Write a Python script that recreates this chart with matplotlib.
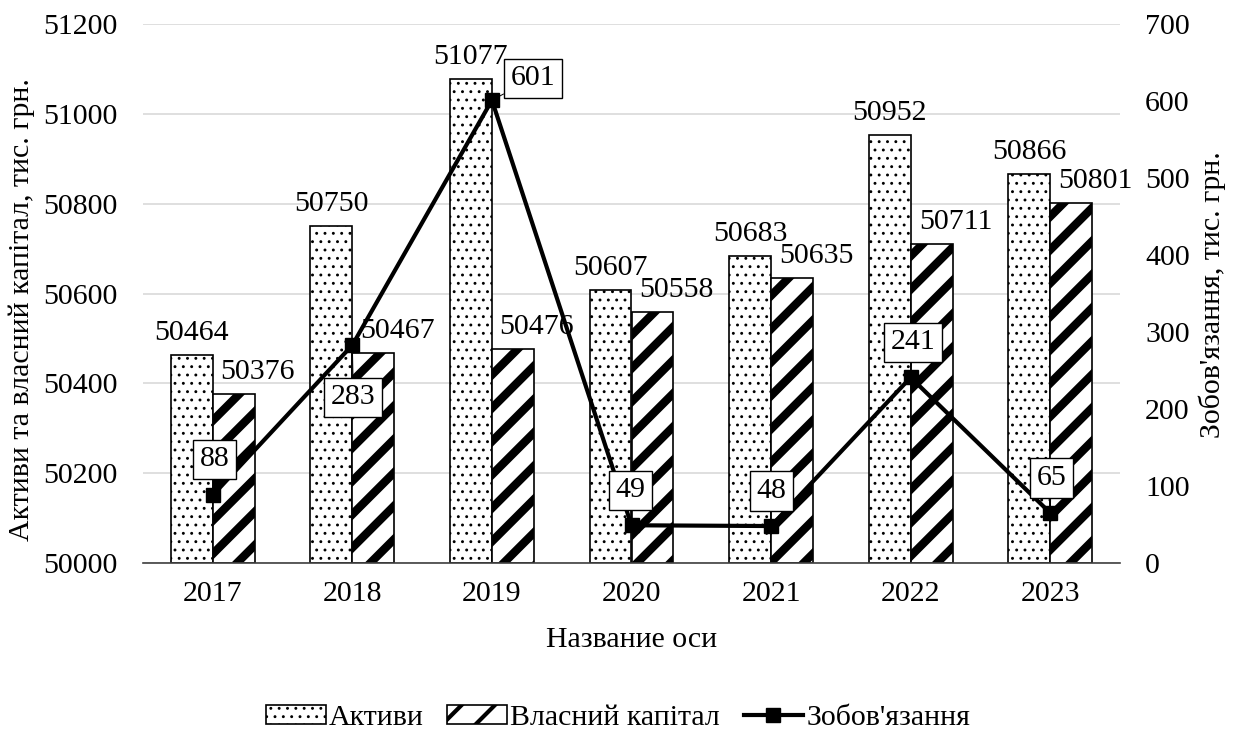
import matplotlib
matplotlib.use("Agg")
import matplotlib.pyplot as plt
from matplotlib.lines import Line2D
import numpy as np

plt.rcParams['font.family'] = ['Liberation Serif', 'DejaVu Serif']
plt.rcParams['hatch.color'] = 'black'

years = ['2017', '2018', '2019', '2020', '2021', '2022', '2023']
assets = [50464, 50750, 51077, 50607, 50683, 50952, 50866]
equity = [50376, 50467, 50476, 50558, 50635, 50711, 50801]
liabilities = [88, 283, 601, 49, 48, 241, 65]
# label offsets (pixels) for line data labels
liab_label_off = [(2, 36), (1, -52), (41, 22), (-1, 35), (0, 35), (2, 35), (1, 35)]

FS = 21.5
DOT_LW = 0.9
STRIPE_LW = 6.0
W, H = 1237, 735
fig = plt.figure(figsize=(W / 100, H / 100), dpi=100)
ax = fig.add_axes([143 / W, 1 - 563 / H, 977 / W, (563 - 24) / H])
ax2 = ax.twinx()

x = np.arange(len(years))
bw = 0.3


def set_hlw(patch, lw):
    try:
        patch.set_hatch_linewidth(lw)
    except Exception:
        pass


plt.rcParams['hatch.linewidth'] = DOT_LW
b1 = ax.bar(x - bw / 2, np.array(assets) - 50000, bw, bottom=50000, color='white',
            edgecolor='black', linewidth=1.2, hatch='..', label='Активи', zorder=2)
plt.rcParams['hatch.linewidth'] = STRIPE_LW
b2 = ax.bar(x + bw / 2, np.array(equity) - 50000, bw, bottom=50000, color='white',
            edgecolor='black', linewidth=1.2, hatch='/', label='Власний капітал', zorder=2)
for p in b1:
    set_hlw(p, DOT_LW)
for p in b2:
    set_hlw(p, STRIPE_LW)
plt.rcParams['hatch.linewidth'] = 1.0

ax.set_xlim(-0.5, len(years) - 0.5)
ax.set_ylim(50000, 51200)
ax.set_yticks(np.arange(50000, 51201, 200))
ax.set_xticks(x)
ax.set_xticklabels(years)
ax.grid(axis='y', color='#d9d9d9', linewidth=1.2, zorder=0)
ax.set_axisbelow(True)
for s in ['top', 'left', 'right']:
    ax.spines[s].set_visible(False)
    ax2.spines[s].set_visible(False)
ax2.spines['bottom'].set_visible(False)
ax.spines['bottom'].set_color('#404040')
ax.spines['bottom'].set_linewidth(1.2)
ax.tick_params(axis='both', length=0, labelsize=FS)
ax.tick_params(axis='y', pad=18)
ax.tick_params(axis='x', pad=13)

for i, v in enumerate(assets):
    ax.annotate(str(v), (x[i] - bw / 2, v), xytext=(0, 22), textcoords='offset pixels',
                ha='center', va='center', fontsize=FS, zorder=3)
for i, v in enumerate(equity):
    ax.annotate(str(v), (x[i] + bw / 2, v), xytext=(24, 22), textcoords='offset pixels',
                ha='center', va='center', fontsize=FS, zorder=3)

ax2.set_ylim(0, 700)
ax2.set_yticks(np.arange(0, 701, 100))
ax2.tick_params(axis='y', length=0, labelsize=FS, pad=18)
ax2.plot(x, liabilities, color='black', linewidth=3, marker='s', markersize=10,
         label="Зобов'язання", zorder=4)
for i, v in enumerate(liabilities):
    dx, dy = liab_label_off[i]
    ax2.annotate(str(v), (x[i], v), xytext=(dx, dy), textcoords='offset pixels',
                 ha='center', va='center', fontsize=FS, zorder=5,
                 bbox=dict(boxstyle='square,pad=0.22', fc='white', ec='black', lw=1.0),
                 arrowprops=dict(arrowstyle='-', lw=0.7, color='black', shrinkA=0, shrinkB=4))

fig.text(22 / W, 1 - 310 / H, 'Активи та власний капітал, тис. грн.', rotation=90,
         ha='center', va='center', fontsize=FS)
fig.text(1212 / W, 1 - 295 / H, "Зобов'язання, тис. грн.", rotation=90,
         ha='center', va='center', fontsize=FS)
fig.text(632 / W, 1 - 640 / H, 'Название оси', ha='center', va='center', fontsize=FS)

handles = [b1.patches[0], b2.patches[0],
           Line2D([0], [0], color='black', linewidth=3, marker='s', markersize=10)]
leg = fig.legend(handles, ['Активи', 'Власний капітал', "Зобов'язання"], loc='center',
                 bbox_to_anchor=(618 / W, 1 - 718 / H), ncol=3, frameon=False, fontsize=FS,
                 handlelength=2.0, handleheight=0.6, handletextpad=0.1, columnspacing=0.8)
lh = leg.legend_handles
set_hlw(lh[0], DOT_LW)
set_hlw(lh[1], 3.0)

fig.savefig('out.png', dpi=100)
